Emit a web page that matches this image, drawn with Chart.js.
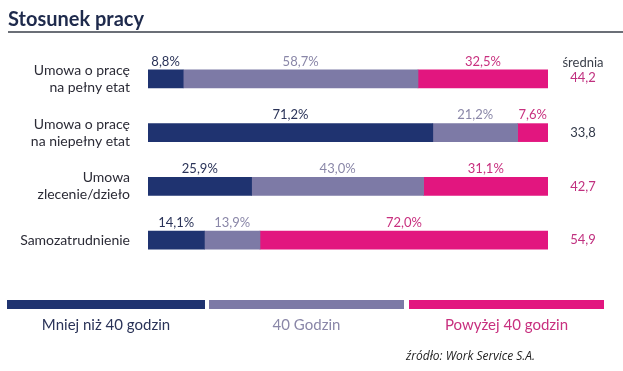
<!DOCTYPE html>
<html>
<head>
<meta charset="utf-8">
<script src="https://cdn.jsdelivr.net/npm/chart.js@4.4.1/dist/chart.umd.min.js"></script>
<style>
  html, body { margin: 0; padding: 0; background: #ffffff; }
  #wrap { position: relative; width: 623px; height: 371px; }
</style>
</head>
<body>
<div id="wrap"><canvas id="chart" width="623" height="371"></canvas></div>
<script>
// Data
const categories = [
    ["Umowa o pracę", "na pełny etat"],
    ["Umowa o pracę", "na niepełny etat"],
    ["Umowa", "zlecenie/dzieło"],
    ["Samozatrudnienie"]
];
const seriesNames = ["Mniej niż 40 godzin", "40 Godzin", "Powyżej 40 godzin"];
const lessThan40 = [8.8, 71.2, 25.9, 14.1];
const exactly40 = [58.7, 21.2, 43.0, 13.9];
const moreThan40 = [32.5, 7.6, 31.1, 72.0];
const averages = [44.2, 33.8, 42.7, 54.9];
const averageTitle = "średnia";
const title = "Stosunek pracy";
const source = "źródło: Work Service S.A.";

const colors = ["#1f3370", "#7d7aa6", "#e2167f"];
const labelColors = ["#2a3358", "#8a87a8", "#c8307f"];
const avgColors = ["#c0307f", "#333a4a", "#c0307f", "#c0307f"];
const FONT = "Lato, 'Noto Sans', sans-serif";

function fmt(v) {
    return v.toFixed(1).replace(".", ",");
}

// draws title, value labels, averages column and the bottom legend
const decorPlugin = {
    id: "decor",
    afterDatasetsDraw(chart) {
        const ctx = chart.ctx;
        const area = chart.chartArea;
        const yScale = chart.scales.y;

        // title + rule
        ctx.save();
        ctx.fillStyle = "#1e2a4c";
        ctx.font = "bold 20px " + FONT;
        ctx.textBaseline = "alphabetic";
        ctx.textAlign = "left";
        ctx.fillText(title, 8, 26);
        ctx.strokeStyle = "#3a3f4a";
        ctx.lineWidth = 1.5;
        ctx.beginPath();
        ctx.moveTo(8, 32);
        ctx.lineTo(623, 32);
        ctx.stroke();

        // value labels above each segment
        ctx.font = "13px " + FONT;
        ctx.textAlign = "center";
        ctx.textBaseline = "bottom";
        chart.data.datasets.forEach((ds, di) => {
            const meta = chart.getDatasetMeta(di);
            meta.data.forEach((bar, i) => {
                const cx = (bar.x + bar.base) / 2;
                const top = bar.y - bar.height / 2;
                ctx.fillStyle = labelColors[di];
                ctx.fillText(fmt(ds.data[i]) + "%", cx, top - 2);
            });
        });

        // averages column
        const ax = area.right + 35;
        ctx.font = "13px " + FONT;
        ctx.textBaseline = "middle";
        ctx.fillStyle = "#3a3f4a";
        ctx.fillText(averageTitle, ax, yScale.getPixelForValue(0) - 16);
        averages.forEach((v, i) => {
            ctx.fillStyle = avgColors[i];
            const y = yScale.getPixelForValue(i) + (i === 0 ? -1 : 0);
            ctx.fillText(fmt(v), ax, y);
        });

        // bottom legend
        const segs = [[7, 205], [209, 404], [409, 604]];
        segs.forEach((s, i) => {
            ctx.fillStyle = colors[i];
            ctx.fillRect(s[0], 300, s[1] - s[0], 9);
            ctx.fillStyle = labelColors[i];
            ctx.font = "15px " + FONT;
            ctx.textAlign = "center";
            ctx.textBaseline = "middle";
            ctx.fillText(seriesNames[i], (s[0] + s[1]) / 2, 325);
        });

        // source
        ctx.fillStyle = "#222222";
        ctx.font = "italic 12px 'Open Sans', sans-serif";
        ctx.textAlign = "left";
        ctx.fillText(source, 406, 357);
        ctx.restore();
    }
};

const ctx = document.getElementById("chart").getContext("2d");

new Chart(ctx, {
    type: "bar",
    data: {
        labels: categories,
        datasets: [
            { label: seriesNames[0], data: lessThan40, backgroundColor: colors[0] },
            { label: seriesNames[1], data: exactly40, backgroundColor: colors[1] },
            { label: seriesNames[2], data: moreThan40, backgroundColor: colors[2] }
        ]
    },
    options: {
        indexAxis: "y",
        responsive: false,
        animation: false,
        barThickness: 18,
        layout: { padding: { top: 52, right: 75, bottom: 104, left: 0 } },
        plugins: {
            legend: { display: false },
            tooltip: { enabled: false }
        },
        scales: {
            x: {
                stacked: true,
                min: 0,
                max: 100,
                display: false
            },
            y: {
                stacked: true,
                grid: { display: false, drawBorder: false },
                border: { display: false },
                ticks: {
                    color: "#2b2b36",
                    font: { family: FONT, size: 14, lineHeight: 1.2 },
                    padding: 10
                },
                afterFit(scale) { scale.width = 148; }
            }
        }
    },
    plugins: [decorPlugin]
});
</script>
</body>
</html>
